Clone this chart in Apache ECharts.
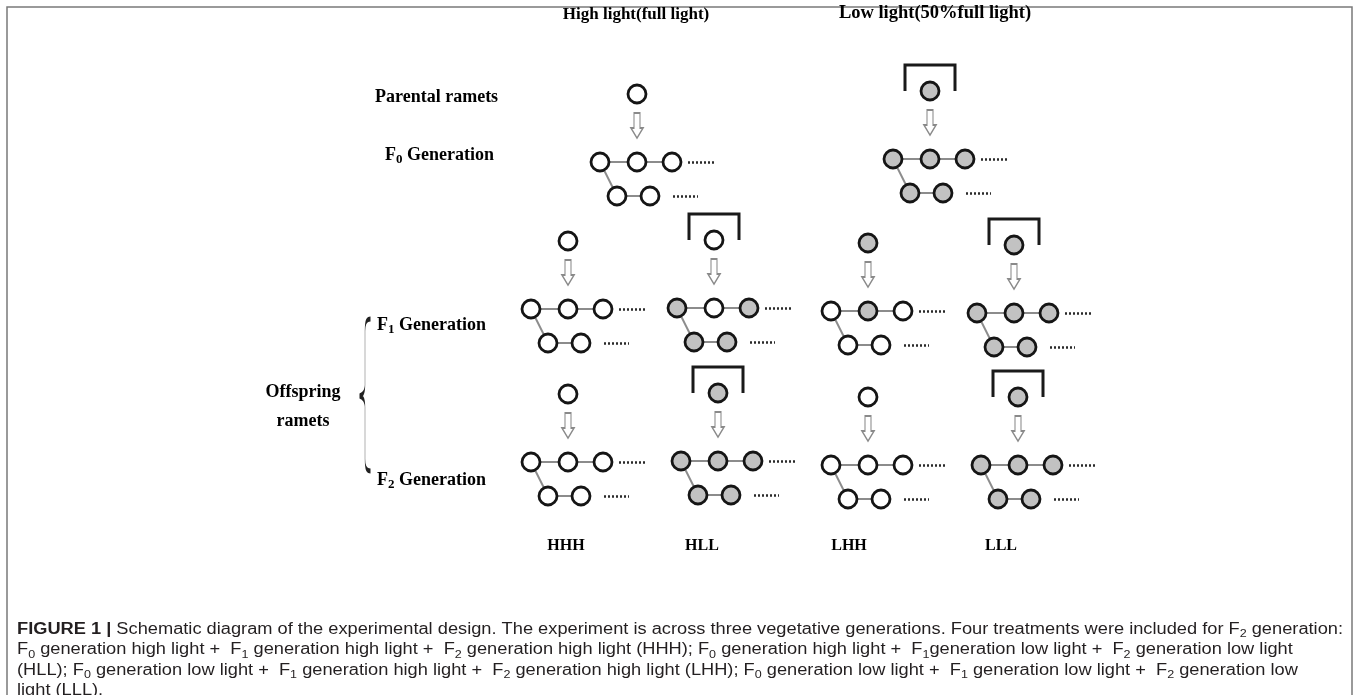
<!DOCTYPE html>
<html><head><meta charset="utf-8">
<script src="https://cdn.jsdelivr.net/npm/echarts@6/dist/echarts.min.js"></script>
<style>html,body{margin:0;padding:0;background:#fff}#c{width:1358px;height:695px}</style>
</head><body><div id="c"></div>
<script>
// ---- data: ramet groups (anchor = parental ramet of each group) ----
const groupX = [637, 930, 568, 714, 868, 1014, 568, 718, 868, 1018];
const groupY = [94, 91, 241, 240, 243, 245, 394, 393, 397, 397];
const parentFill = ['W', 'G', 'W', 'W', 'G', 'G', 'W', 'G', 'W', 'G'];
const shadeBox = [0, 1, 0, 1, 0, 1, 0, 1, 0, 1];
const row1Fill = ['WWW', 'GGG', 'WWW', 'GWG', 'WGW', 'GGG', 'WWW', 'GGG', 'WWW', 'GGG'];
const row2Fill = ['WW', 'GG', 'WW', 'GG', 'WW', 'GG', 'WW', 'GG', 'WW', 'GG'];

// ---- text ----
const headers = ['High light(full light)', 'Low light(50%full light)'];
const headerX = [636, 935];
const headerY = [15, 13];
const rowLabels = ['Parental ramets', 'F{s|0} Generation', 'F{s|1} Generation', 'F{s|2} Generation'];
const rowLabelX = [375, 385, 377, 377];
const rowLabelY = [97, 155, 325, 480];
const sideLabels = ['Offspring', 'ramets'];
const sideX = [303, 303];
const sideY = [392, 421];
const treatments = ['HHH', 'HLL', 'LHH', 'LLL'];
const treatX = [566, 702, 849, 1001];
const treatY = [546, 546, 546, 546];
const captionLines = [
  '{b|FIGURE 1 |} Schematic diagram of the experimental design. The experiment is across three vegetative generations. Four treatments were included for F{s|2} generation:',
  'F{s|0} generation high light +  F{s|1} generation high light +  F{s|2} generation high light (HHH); F{s|0} generation high light +  F{s|1}generation low light +  F{s|2} generation low light',
  '(HLL); F{s|0} generation low light +  F{s|1} generation high light +  F{s|2} generation high light (LHH); F{s|0} generation low light +  F{s|1} generation low light +  F{s|2} generation low',
  'light (LLL).'
];

// ---- layout template (offsets relative to the parental ramet) ----
const R1dy = 68, R1dx = [-37, 0, 35];
const R2dy = 102, R2dx = [-20, 13];
const FILL = { W: '#ffffff', G: '#c2c2c2' };

const circles = [], links = [], dots = [], brackets = [], arrows = [];
groupX.forEach((x, i) => {
  const y = groupY[i];
  circles.push({ value: [x, y], itemStyle: { color: FILL[parentFill[i]] } });
  R1dx.forEach((d, k) => circles.push({ value: [x + d, y + R1dy], itemStyle: { color: FILL[row1Fill[i][k]] } }));
  R2dx.forEach((d, k) => circles.push({ value: [x + d, y + R2dy], itemStyle: { color: FILL[row2Fill[i][k]] } }));
  links.push({ coords: [[x + R1dx[0], y + R1dy], [x + R1dx[2], y + R1dy]] });
  links.push({ coords: [[x + R1dx[0], y + R1dy], [x + R2dx[0], y + R2dy]] });
  links.push({ coords: [[x + R2dx[0], y + R2dy], [x + R2dx[1], y + R2dy]] });
  dots.push({ coords: [[x + 51, y + R1dy], [x + 77, y + R1dy]] });
  dots.push({ coords: [[x + 36, y + R2dy], [x + 61, y + R2dy]] });
  if (shadeBox[i]) brackets.push({ coords: [[x - 25, y], [x - 25, y - 26], [x + 25, y - 26], [x + 25, y]] });
  arrows.push([x, y + 31.5]);
});

const serif = 'Liberation Serif';
const subRich = { s: { fontSize: 13, fontWeight: 'bold', fontFamily: serif, verticalAlign: 'bottom', lineHeight: 13, color: '#000' } };
const textPts = [];
headers.forEach((t, i) => textPts.push({ value: [headerX[i], headerY[i]], label: { formatter: t, position: 'inside', fontSize: i ? 18.5 : 17 } }));
rowLabels.forEach((t, i) => textPts.push({ value: [rowLabelX[i], rowLabelY[i]], label: { formatter: t, position: 'right', distance: 0, fontSize: 18 } }));
sideLabels.forEach((t, i) => textPts.push({ value: [sideX[i], sideY[i]], label: { formatter: t, position: 'inside', fontSize: 18 } }));
treatments.forEach((t, i) => textPts.push({ value: [treatX[i], treatY[i]], label: { formatter: t, position: 'inside', fontSize: 16 } }));

const chart = echarts.init(document.getElementById('c'), null, { renderer: 'canvas' });
chart.setOption({
  animation: false,
  backgroundColor: '#ffffff',
  grid: { left: 0, right: 0, top: 0, bottom: 0 },
  xAxis: { type: 'value', min: 0, max: 1358, show: false },
  yAxis: { type: 'value', min: 0, max: 695, inverse: true, show: false },
  series: [
    { type: 'lines', coordinateSystem: 'cartesian2d', polyline: true, clip: false, silent: true, z: 1,
      lineStyle: { color: '#7a7a7a', width: 1.5, opacity: 1 },
      data: [{ coords: [[7, 695], [7, 7], [1352, 7], [1352, 695]] }] },
    { type: 'lines', coordinateSystem: 'cartesian2d', silent: true, z: 2,
      lineStyle: { color: '#8c8c8c', width: 2, opacity: 1 }, data: links },
    { type: 'lines', coordinateSystem: 'cartesian2d', silent: true, z: 2,
      lineStyle: { color: '#2a2a2a', width: 2.5, type: [2, 2], opacity: 1 }, data: dots },
    { type: 'lines', coordinateSystem: 'cartesian2d', polyline: true, silent: true, z: 2,
      lineStyle: { color: '#1a1a1a', width: 3, opacity: 1, join: 'miter' }, data: brackets },
    { type: 'scatter', silent: true, z: 3,
      symbol: 'path://M3,0 L9,0 L9,15 L12,15 L6,25 L0,15 L3,15 Z', symbolSize: [12, 25], symbolKeepAspect: false,
      itemStyle: { color: '#ffffff', borderColor: '#8a8a8a', borderWidth: 1.5, opacity: 1 }, data: arrows },
    { type: 'scatter', silent: true, z: 4, symbol: 'circle', symbolSize: 18,
      itemStyle: { borderColor: '#151515', borderWidth: 2.8, opacity: 1 }, data: circles },
    { type: 'scatter', silent: true, z: 3,
      symbol: 'path://M10,0 C6,0 5,4 5,12 L5,66 C5,73 3,76 0,77 C3,78 5,81 5,88 L5,140 C5,148 6,152 10,152',
      symbolSize: [11, 152], symbolKeepAspect: false,
      itemStyle: { color: 'none', borderColor: '#222', borderWidth: 1.3, opacity: 1 },
      data: [[365, 395]] },
    { type: 'scatter', silent: true, z: 5, symbolSize: 0,
      itemStyle: { opacity: 1 },
      label: { show: true, color: '#000', fontFamily: serif, fontWeight: 'bold', lineHeight: 22, textBorderWidth: 0, rich: subRich },
      data: textPts }
  ],
  graphic: [{
    type: 'text', x: 17, y: 619, scaleX: 1.14, silent: true,
    style: {
      x: 0, y: 0,
      text: captionLines.join('\n'),
      fill: '#231f20', fontFamily: 'Liberation Sans', fontSize: 16, lineHeight: 20.5,
      rich: {
        b: { fontWeight: 'bold', fontFamily: 'Liberation Sans', fontSize: 16, fill: '#231f20', lineHeight: 20.5 },
        s: { fontFamily: 'Liberation Sans', fontSize: 11, fill: '#231f20', verticalAlign: 'bottom', lineHeight: 12 }
      }
    }
  }]
});
</script></body></html>
